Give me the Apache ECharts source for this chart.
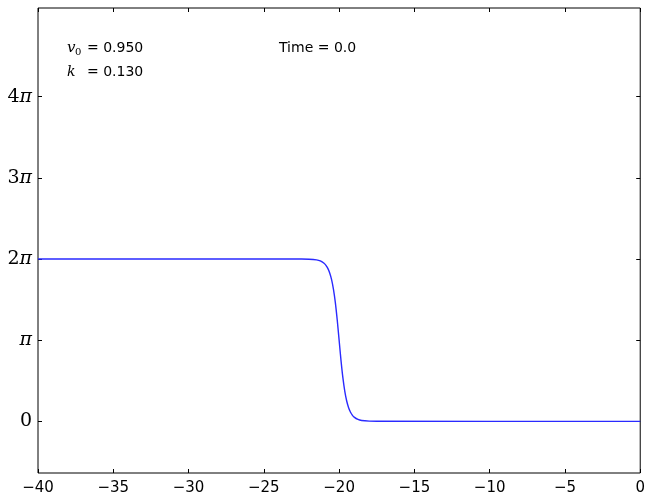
<!DOCTYPE html>
<html>
<head>
<meta charset="utf-8">
<script src="https://cdn.jsdelivr.net/npm/echarts@6/dist/echarts.min.js"></script>
<style>
  html, body { margin: 0; padding: 0; background: #fff; }
  #chart { width: 648px; height: 498px; }
</style>
</head>
<body>
<div id="chart"></div>
<script>
// Kink profile phi(x) at t = 0 (radians)
const xVals = [-40, -22.5, -22, -21.5, -21.25, -21, -20.875, -20.75, -20.625, -20.5, -20.375, -20.25, -20.125, -20,
               -19.875, -19.75, -19.625, -19.5, -19.375, -19.25, -19.125, -19, -18.75, -18.5, -18, -17.5, 0];
const phiVals = [6.283, 6.282, 6.277, 6.250, 6.210, 6.120, 6.040, 5.921, 5.745, 5.486, 5.112, 4.594, 3.921, 3.1416,
                 2.362, 1.689, 1.171, 0.797, 0.538, 0.362, 0.243, 0.163, 0.073, 0.033, 0.007, 0.001, 0];

// Axis ticks
const xTicks = [-40, -35, -30, -25, -20, -15, -10, -5, 0];
const yTickValues = [0, Math.PI, 2 * Math.PI, 3 * Math.PI, 4 * Math.PI];
const yTickLabels = ['0', 'π', '2π', '3π', '4π'];

// Annotations
const v0Text = '= 0.950';
const kText = '= 0.130';
const timeText = 'Time = 0.0';

const seriesData = xVals.map((x, i) => [x, phiVals[i]]);

function yLabel(value) {
  let idx = 0, best = Infinity;
  yTickValues.forEach((v, i) => { const d = Math.abs(v - value); if (d < best) { best = d; idx = i; } });
  const s = yTickLabels[idx];
  if (s.endsWith('π')) {
    const n = s.slice(0, -1);
    return (n ? '{n|' + n + '}' : '') + '{p|π}';
  }
  return '{n|' + s + '}';
}

const tickStyle = { show: true, inside: true, length: 4, lineStyle: { color: '#000', width: 1 } };
const noLine = { show: false, onZero: false };
const serifRich = {
  n: { fontFamily: 'DejaVu Serif', fontSize: 19, color: '#000' },
  p: { fontFamily: 'DejaVu Serif', fontStyle: 'italic', fontSize: 19, color: '#000' }
};

const chart = echarts.init(document.getElementById('chart'), null, { renderer: 'canvas' });
chart.setOption({
  animation: false,
  backgroundColor: '#fff',
  grid: { left: 38, right: 7, top: 8, bottom: 25, show: true, borderColor: '#000', borderWidth: 1, backgroundColor: 'transparent' },
  xAxis: [
    {
      type: 'value', min: -40, max: 0, interval: 5, position: 'bottom',
      axisLine: noLine,
      axisTick: tickStyle,
      splitLine: { show: false },
      axisLabel: {
        fontFamily: 'DejaVu Sans', fontSize: 15, color: '#000', margin: 8,
        formatter: v => String(v).replace('-', '\u2212')
      }
    },
    {
      type: 'value', min: -40, max: 0, interval: 5, position: 'top',
      axisLine: noLine, axisTick: tickStyle, splitLine: { show: false },
      axisLabel: { show: false }
    }
  ],
  yAxis: [
    {
      type: 'value', min: -2, max: 16, position: 'left',
      axisLine: noLine,
      axisTick: Object.assign({}, tickStyle, { customValues: yTickValues }),
      splitLine: { show: false },
      axisLabel: {
        customValues: yTickValues, margin: 6,
        formatter: yLabel, rich: serifRich
      }
    },
    {
      type: 'value', min: -2, max: 16, position: 'right',
      axisLine: noLine,
      axisTick: Object.assign({}, tickStyle, { customValues: yTickValues }),
      splitLine: { show: false },
      axisLabel: { show: false, customValues: yTickValues }
    }
  ],
  series: [{
    type: 'line',
    data: seriesData,
    smooth: 0.3,
    showSymbol: false,
    lineStyle: { color: '#2a2aff', width: 1.4 },
    clip: true
  }],
  graphic: [
    { type: 'text', x: 67, y: 48, style: { text: 'v', font: 'italic 15px "DejaVu Serif"', fill: '#000', verticalAlign: 'middle' } },
    { type: 'text', x: 75, y: 52, style: { text: '0', font: '10px "DejaVu Serif"', fill: '#000', verticalAlign: 'middle' } },
    { type: 'text', x: 87, y: 48, style: { text: v0Text, font: '14px "DejaVu Sans"', fill: '#000', verticalAlign: 'middle' } },
    { type: 'text', x: 67, y: 72, style: { text: 'k', font: 'italic 14px "DejaVu Serif"', fill: '#000', verticalAlign: 'middle' } },
    { type: 'text', x: 87, y: 72, style: { text: kText, font: '14px "DejaVu Sans"', fill: '#000', verticalAlign: 'middle' } },
    { type: 'text', x: 279, y: 48, style: { text: timeText, font: '14px "DejaVu Sans"', fill: '#000', verticalAlign: 'middle' } }
  ]
});
</script>
</body>
</html>
